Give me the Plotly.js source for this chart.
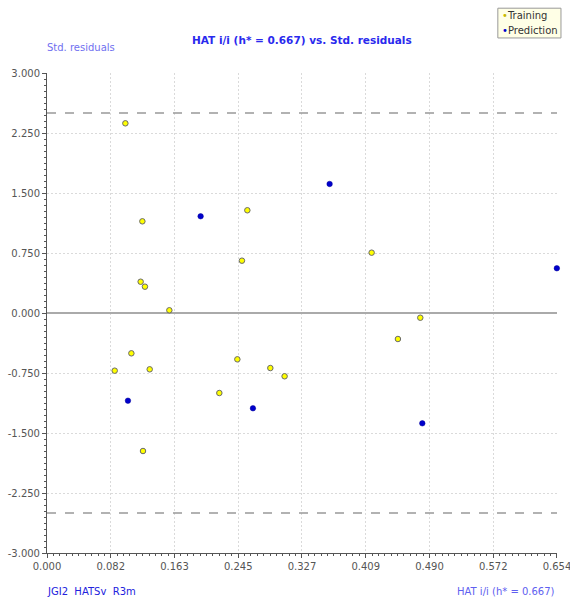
<!DOCTYPE html>
<html>
<head>
<meta charset="utf-8">
<script src="https://cdn.plot.ly/plotly-3.0.1.min.js"></script>
<style>html,body{margin:0;padding:0;background:#fff;}#chart{width:570px;height:599px;}</style>
</head>
<body>
<div id="chart"></div>
<script>
// Training set: leverage (HAT i/i) and standardized residuals
const trainHat = [0.1005, 0.1223, 0.2569, 0.2500, 0.1201, 0.1256, 0.1569, 0.4163, 0.4787, 0.4500, 0.1082, 0.0868, 0.1317, 0.2441, 0.2864, 0.3047, 0.2210, 0.1231];
const trainRes = [2.371, 1.146, 1.284, 0.654, 0.391, 0.329, 0.034, 0.754, -0.059, -0.325, -0.504, -0.721, -0.704, -0.579, -0.688, -0.791, -1.000, -1.725];
// Prediction set
const predHat = [0.1970, 0.3624, 0.6538, 0.1038, 0.2641, 0.4813];
const predRes = [1.209, 1.613, 0.559, -1.096, -1.191, -1.379];
// Axis ticks
const xTickVals = [0, 0.08175, 0.1635, 0.24525, 0.327, 0.40875, 0.4905, 0.57225, 0.654];
const xTickText = ["0.000", "0.082", "0.163", "0.245", "0.327", "0.409", "0.490", "0.572", "0.654"];
const yTickVals = [-3, -2.25, -1.5, -0.75, 0, 0.75, 1.5, 2.25, 3];
const yTickText = ["-3.000", "-2.250", "-1.500", "-0.750", "0.000", "0.750", "1.500", "2.250", "3.000"];
const hStar = 0.667;
const resLimit = 2.5;

const font = "DejaVu Sans, Verdana, sans-serif";

const traces = [
  {x: trainHat, y: trainRes, mode: "markers", type: "scatter", name: "Training", cliponaxis: false,
   marker: {color: "#ffff00", size: 5.5, line: {color: "#6a6a6a", width: 1}}},
  {x: predHat, y: predRes, mode: "markers", type: "scatter", name: "Prediction", cliponaxis: false,
   marker: {color: "#0000cc", size: 5.5, line: {color: "#000099", width: 0.5}}}
];

const layout = {
  width: 570, height: 599,
  margin: {l: 47, r: 13, t: 73, b: 46},
  paper_bgcolor: "#ffffff", plot_bgcolor: "#ffffff",
  showlegend: false,
  font: {family: font, size: 10, color: "#555555"},
  xaxis: {
    range: [0, 0.65402], tickmode: "array", tickvals: xTickVals, ticktext: xTickText,
    ticklabeloverflow: "allow",
    showline: true, linecolor: "#555555", linewidth: 1,
    ticks: "outside", ticklen: 4, tickcolor: "#555555",
    minor: {ticks: "outside", ticklen: 2, tickcolor: "#555555", dtick: 0.008175, tick0: 0, showgrid: false},
    showgrid: true, gridcolor: "#dadada", griddash: "2px,2px", gridwidth: 1,
    zeroline: false, tickfont: {family: font, size: 10, color: "#555555"}
  },
  yaxis: {
    range: [-3, 3], tickmode: "array", tickvals: yTickVals, ticktext: yTickText,
    showline: true, linecolor: "#555555", linewidth: 1,
    ticks: "outside", ticklen: 4, tickcolor: "#555555",
    minor: {ticks: "outside", ticklen: 2, tickcolor: "#555555", dtick: 0.075, tick0: 0, showgrid: false},
    showgrid: true, gridcolor: "#dadada", griddash: "2px,2px", gridwidth: 1,
    zeroline: true, zerolinecolor: "#aaaaaa", zerolinewidth: 2,
    tickfont: {family: font, size: 10, color: "#555555"}
  },
  shapes: [
    {type: "line", xref: "paper", x0: 0, x1: 1, yref: "y", y0: resLimit, y1: resLimit,
     line: {color: "#999999", width: 1.5, dash: "dash"}},
    {type: "line", xref: "paper", x0: 0, x1: 1, yref: "y", y0: -resLimit, y1: -resLimit,
     line: {color: "#999999", width: 1.5, dash: "dash"}},
    {type: "rect", xref: "paper", yref: "paper", x0: 0.884, x1: 1.0078, y0: 1.073, y1: 1.135,
     fillcolor: "#ffffe6", line: {color: "#999999", width: 1}}
  ],
  annotations: [
    {xref: "paper", yref: "paper", x: 0.5, y: 1.069, xanchor: "center", yanchor: "middle", showarrow: false,
     text: "<b>HAT i/i (h* = " + hStar.toFixed(3) + ") vs. Std. residuals</b>",
     font: {family: font, size: 10.5, color: "#2a2aee"}},
    {xref: "paper", yref: "paper", x: -0.004, y: 1.054, xanchor: "left", yanchor: "middle", showarrow: false,
     text: "Std. residuals", font: {family: font, size: 10, color: "#7070f0"}},
    {xref: "paper", yref: "paper", x: -0.004, y: -0.081, xanchor: "left", yanchor: "middle", showarrow: false,
     text: "JGI2  HATSv  R3m", font: {family: font, size: 10, color: "#2222dd"}},
    {xref: "paper", yref: "paper", x: 1.0, y: -0.081, xanchor: "right", yanchor: "middle", showarrow: false,
     text: "HAT i/i (h* = " + hStar.toFixed(3) + ")", font: {family: font, size: 10, color: "#6060f0"}},
    {xref: "paper", yref: "paper", x: 0.889, y: 1.119, xanchor: "left", yanchor: "middle", showarrow: false,
     text: "<span style='color:#c8b800'>•</span>Training", font: {family: font, size: 10, color: "#333333"}},
    {xref: "paper", yref: "paper", x: 0.889, y: 1.089, xanchor: "left", yanchor: "middle", showarrow: false,
     text: "<span style='color:#0000cc'>•</span>Prediction", font: {family: font, size: 10, color: "#333333"}}
  ]
};

Plotly.newPlot("chart", traces, layout, {displayModeBar: false, staticPlot: true});
</script>
</body>
</html>
